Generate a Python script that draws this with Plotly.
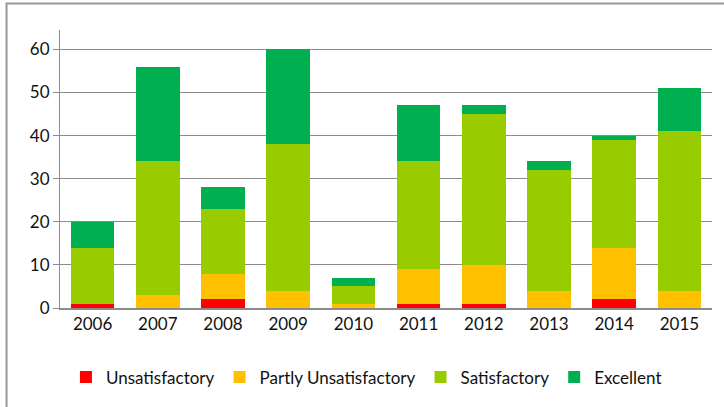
import plotly.graph_objects as go

years = ["2006", "2007", "2008", "2009", "2010", "2011", "2012", "2013", "2014", "2015"]
unsatisfactory = [1, 0, 2, 0, 0, 1, 1, 0, 2, 0]
partly_unsatisfactory = [0, 3, 6, 4, 1, 8, 9, 4, 12, 4]
satisfactory = [13, 31, 15, 34, 4, 25, 35, 28, 25, 37]
excellent = [6, 22, 5, 22, 2, 13, 2, 2, 1, 10]

series = [
    ("Unsatisfactory", unsatisfactory, "#FF0000"),
    ("Partly Unsatisfactory", partly_unsatisfactory, "#FFC000"),
    ("Satisfactory", satisfactory, "#99CC00"),
    ("Excellent", excellent, "#00B050"),
]

fig = go.Figure()
for name, vals, col in series:
    fig.add_trace(go.Bar(x=years, y=vals, name=name, marker_color=col,
                         marker_line_width=0))

fig.update_layout(
    barmode="stack",
    bargap=0.33,
    width=724, height=407,
    margin=dict(l=60, r=12, t=30, b=92),
    paper_bgcolor="white", plot_bgcolor="white",
    font=dict(family="Lato, Open Sans, sans-serif", size=17, color="#111"),
    legend=dict(orientation="h", x=0.47, xanchor="center", y=-0.25, yanchor="middle",
                font=dict(size=17), itemwidth=30, traceorder="normal"),
    showlegend=True,
)
fig.update_yaxes(range=[0, 64.5], tickvals=[0, 10, 20, 30, 40, 50, 60],
                 showgrid=True, gridcolor="#8c8c8c", gridwidth=1,
                 showline=True, linecolor="#8c8c8c", linewidth=1,
                 ticks="outside", ticklen=6, tickcolor="#8c8c8c",
                 zeroline=False, automargin=False)
fig.update_xaxes(showline=True, linecolor="#8c8c8c", linewidth=1.5, ticks="",
                 automargin=False)

# chart frame
fig.add_shape(type="rect", xref="paper", yref="paper",
              x0=-0.082, x1=1.1, y0=-0.5, y1=1.095,
              line=dict(color="#999999", width=2), layer="below")

fig.write_html("out.html", config={"displayModeBar": False},
               post_script="document.body.style.margin='0';")
